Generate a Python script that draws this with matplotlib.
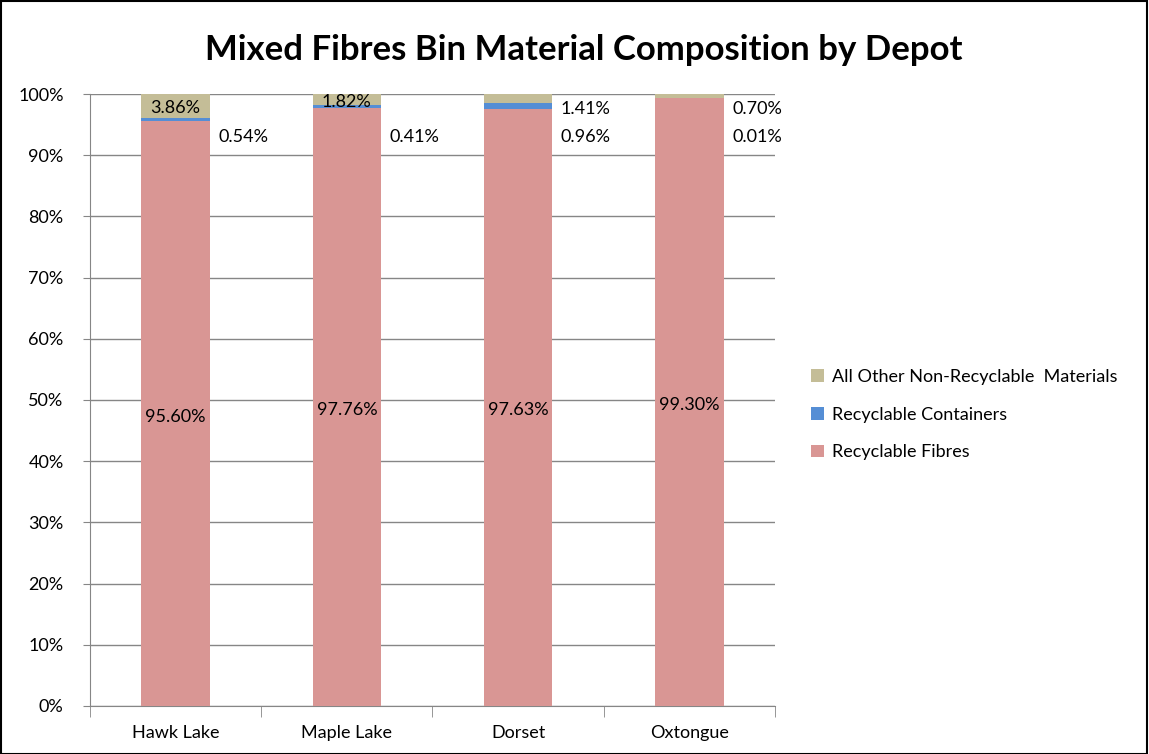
import matplotlib
matplotlib.use("Agg")
import matplotlib.pyplot as plt
from matplotlib.patches import Rectangle
from matplotlib.ticker import FuncFormatter, FixedLocator
import numpy as np

depots = ["Hawk Lake", "Maple Lake", "Dorset", "Oxtongue"]
recyclable_fibres = [95.60, 97.76, 97.63, 99.30]
recyclable_containers = [0.54, 0.41, 0.96, 0.01]
other_non_recyclable = [3.86, 1.82, 1.41, 0.70]
series_names = ["Recyclable Fibres", "Recyclable Containers",
                "All Other Non-Recyclable  Materials"]
colors = ["#D99694", "#558ED5", "#C4BD97"]

plt.rcParams["font.family"] = ["Lato", "DejaVu Sans"]
FS = 13

fig = plt.figure(figsize=(11.49, 7.54), dpi=100)
ax = fig.add_axes([0.0783, 0.0637, 0.5962, 0.8116])

x = np.arange(len(depots))
w = 0.4
b1 = ax.bar(x, recyclable_fibres, w, color=colors[0], label=series_names[0], zorder=3)
b2 = ax.bar(x, recyclable_containers, w, bottom=recyclable_fibres,
            color=colors[1], label=series_names[1], zorder=3)
bottom3 = np.array(recyclable_fibres) + np.array(recyclable_containers)
b3 = ax.bar(x, other_non_recyclable, w, bottom=bottom3,
            color=colors[2], label=series_names[2], zorder=3)

ax.set_xlim(-0.5, len(depots) - 0.5)
ax.set_ylim(0, 100)
ax.yaxis.set_major_locator(FixedLocator(np.arange(0, 101, 10)))
ax.yaxis.set_major_formatter(FuncFormatter(lambda v, p: f"{v:.0f}%"))
ax.grid(axis="y", color="#868686", linewidth=1.0, zorder=0)
ax.set_xticks(x)
ax.set_xticklabels(depots, fontsize=FS)
ax.tick_params(axis="x", length=0, pad=14)
ax.set_xticks(np.arange(-0.5, len(depots)), minor=True)
ax.tick_params(axis="x", which="minor", length=8, color="#868686", direction="out")
ax.tick_params(axis="y", labelsize=FS, length=5, color="#868686", pad=14)
for s in ["top", "right"]:
    ax.spines[s].set_visible(False)
for s in ["left", "bottom"]:
    ax.spines[s].set_color("#868686")

# fibre labels centred in each bar
for i, v in enumerate(recyclable_fibres):
    ax.text(i, v / 2 - 0.5, f"{v:.2f}%", ha="center", va="center", fontsize=FS, zorder=4)

# labels inside the top segment where it is tall enough
for i in (0, 1):
    v = other_non_recyclable[i]
    ax.text(i, bottom3[i] + v / 2 - 0.35, f"{v:.2f}%", ha="center", va="center",
            fontsize=FS, zorder=4)

# remaining labels beside the bars
upper_row, lower_row = 97.5, 92.9
for i in (2, 3):
    ax.text(i + w / 2 + 0.05, upper_row, f"{other_non_recyclable[i]:.2f}%",
            ha="left", va="center", fontsize=FS, zorder=4)
for i in range(len(depots)):
    ax.text(i + w / 2 + 0.05, lower_row, f"{recyclable_containers[i]:.2f}%",
            ha="left", va="center", fontsize=FS, zorder=4)

handles = [b3, b2, b1]
fig.legend(handles, [h.get_label() for h in handles], loc="upper left",
           bbox_to_anchor=(0.692, 0.532), frameon=False, fontsize=FS,
           handlelength=0.7, handleheight=0.7, handletextpad=0.45,
           labelspacing=1.2)

fig.text(0.508, 0.934, "Mixed Fibres Bin Material Composition by Depot",
         ha="center", va="center", fontsize=25, fontweight="bold")

fig.patches.append(Rectangle((0.0005, 0.0005), 0.998, 0.998, transform=fig.transFigure,
                             fill=False, edgecolor="black", linewidth=1.5))

fig.savefig("out.png", dpi=100)
